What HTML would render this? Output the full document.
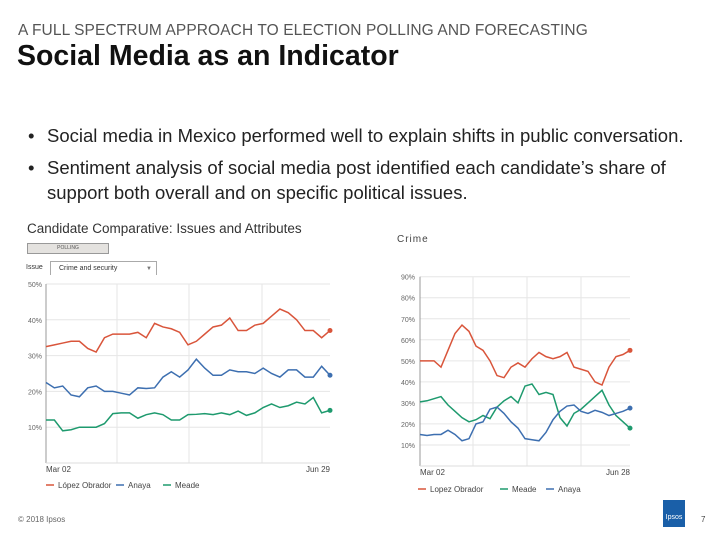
<!DOCTYPE html>
<html><head><meta charset="utf-8"><style>
body{margin:0;width:720px;height:540px;background:#fff;font-family:"Liberation Sans",sans-serif;position:relative;overflow:hidden}
.a{position:absolute;white-space:nowrap}
</style></head><body>
<div class="a" style="left:18px;top:22px;font-size:15.5px;color:#555;letter-spacing:0.1px">A FULL SPECTRUM APPROACH TO ELECTION POLLING AND FORECASTING</div>
<div class="a" style="left:17px;top:40px;font-size:28.5px;font-weight:bold;color:#111">Social Media as an Indicator</div>
<div class="a" style="left:28px;top:125px;font-size:18.5px;color:#222"><span style="position:absolute;left:0">•</span><span style="position:absolute;left:19px">Social media in Mexico performed well to explain shifts in public conversation.</span></div>
<div class="a" style="left:28px;top:155px;font-size:18.5px;color:#222;line-height:25px"><span style="position:absolute;left:0">•</span><span style="position:absolute;left:19px">Sentiment analysis of social media post identified each candidate’s share of<br>support both overall and on specific political issues.</span></div>
<div class="a" style="left:18px;top:515px;font-size:8px;color:#666">© 2018 Ipsos</div>
<div class="a" style="left:663px;top:500px;width:22px;height:27px;background:#1a5fa8;color:#fff;font-size:7px;text-align:center;line-height:36px">Ipsos</div>
<div class="a" style="left:701px;top:515px;font-size:8px;color:#444">7</div>
<svg width="720" height="540" style="position:absolute;left:0;top:0" id="svg"></svg>
<script>
const leftCats=["Mar 02","Jun 29"];
const leftTicks=[10,20,30,40,50];
const leftLopez=[32.5,33,33.5,34,34,32,31,35,36,36,36,36.5,35,39,38,37.5,36.5,33,34,36,38,38.5,40.5,37,37,38.5,39,41,43,42,40,37,37,35,37];
const leftAnaya=[22.5,21,21.5,19,18.5,21,21.5,20,20,19.5,19,21,20.8,21,24,25.5,24,26,29,26.5,24.5,24.5,26,25.5,25.5,25,26.5,25,24,26,26,24,24,27,24.5];
const leftMeade=[12,12,9,9.3,10,10,10,11,13.8,14,14,12.5,13.5,14,13.5,12,12,13.5,13.6,13.8,13.5,14,13.5,14.5,13.3,14,15.5,16.5,15.5,16,17,16.5,18.3,14,14.7];
const rightCats=["Mar 02","Jun 28"];
const rightTicks=[10,20,30,40,50,60,70,80,90];
const rightLopez=[50,50,50,47,55,63,67,64,57,55,50,43,42,47,49,47,51,54,52,51,52,54,47,46,45,40,38.5,47,52,53,55];
const rightMeade=[30.5,31,32,33,29,26,23,21,22,24,22.5,28,31,33,30,38,39,34,35,34,23,19,25,27,30,33,36,29,24,21,18];
const rightAnaya=[15,14.5,15,15,17,15,12,13,20,21,27,28,25,21,18,13,12.5,12,16,22,26,28.5,29,26,25,26.5,25.5,24,25,26,27.5];
const R='#d9553b',B='#3d6fb0',G='#1e9a6e';
const svg=document.getElementById('svg');
function el(t,at,txt){const e=document.createElementNS('http://www.w3.org/2000/svg',t);for(const k in at)e.setAttribute(k,at[k]);if(txt!==undefined)e.textContent=txt;svg.appendChild(e);return e;}
function chart(o){
  const X=i=>o.x0+(o.x1-o.x0)*i/(o.n-1);
  const Y=v=>o.y0-(o.y0-o.yTop)*v/o.max;
  o.vg.forEach(x=>{const g=el('line',{x1:x,x2:x,y1:Y(o.max),y2:o.y0,stroke:'#e6e6e6'});});
  o.ticks.forEach(t=>{const g=el('line',{x1:o.x0,x2:o.x1,y1:Y(t),y2:Y(t),stroke:'#e6e6e6'});
    const l=el('text',{x:o.lx,y:Y(t)+3,'font-size':7,fill:'#666'},t+'%');});
  const ax=el('line',{x1:o.x0,x2:o.x0,y1:Y(o.max),y2:o.y0,stroke:'#999'});
  const bx=el('line',{x1:o.x0,x2:o.x1,y1:o.y0,y2:o.y0,stroke:'#ddd'});
  const c0=el('text',{x:o.x0,y:o.y0+9,'font-size':8,fill:'#444'},o.cats[0]);
  const c1=el('text',{x:o.x1,y:o.y0+9,'font-size':8,fill:'#444','text-anchor':'end'},o.cats[1]);
  o.series.forEach(s=>{
    const p=el('polyline',{points:s.d.map((v,i)=>X(i)+','+Y(v)).join(' '),fill:'none',stroke:s.c,'stroke-width':1.5});
    
    const d=el('circle',{cx:X(s.d.length-1),cy:Y(s.d[s.d.length-1]),r:2.5,fill:s.c});
    
  });
}
chart({x0:46,x1:330,y0:463,yTop:284,max:50,n:leftLopez.length,ticks:leftTicks,cats:leftCats,lx:28,vg:[117,189,262],
  series:[{d:leftLopez,c:R,name:'lopez-obrador-line'},{d:leftAnaya,c:B,name:'anaya-line'},{d:leftMeade,c:G,name:'meade-line'}]});
chart({x0:420,x1:630,y0:466,yTop:276.7,max:90,n:rightLopez.length,ticks:rightTicks,cats:rightCats,lx:401,vg:[473,527,581],
  series:[{d:rightLopez,c:R,name:'crime-lopez-obrador-line'},{d:rightMeade,c:G,name:'crime-meade-line'},{d:rightAnaya,c:B,name:'crime-anaya-line'}]});
function legend(x,y,items){items.forEach(it=>{const l=el('line',{x1:x,x2:x+8,y1:y,y2:y,stroke:it[1],'stroke-width':1.5});
  const t=el('text',{x:x+12,y:y+3,'font-size':8,fill:'#444'},it[0]);x+=it[2];});}
legend(46,485,[['López Obrador',R,70],['Anaya',B,47],['Meade',G,50]]);
legend(418,489,[['Lopez Obrador',R,82],['Meade',G,46],['Anaya',B,50]]);
</script>
<div class="a" style="left:27px;top:221px;font-size:13.5px;color:#333">Candidate Comparative: Issues and Attributes</div>
<div class="a" style="left:27px;top:243px;width:80px;height:9px;background:#e4e2df;border:1px solid #999;font-size:5px;color:#555;text-align:center;line-height:9px">POLLING</div>
<div class="a" style="left:26px;top:264px;font-size:7px;color:#333">Issue</div>
<div class="a" style="left:50px;top:261px;width:107px;height:14px;border:1px solid #aaa;border-bottom:none;font-size:7px;color:#333;line-height:14px;padding-left:8px;box-sizing:border-box">Crime and security<span style="position:absolute;right:4px;top:0;color:#777;font-size:6px">▼</span></div>
<div class="a" style="left:397px;top:234px;font-size:10px;color:#444;letter-spacing:1px">Crime</div>
</body></html>
